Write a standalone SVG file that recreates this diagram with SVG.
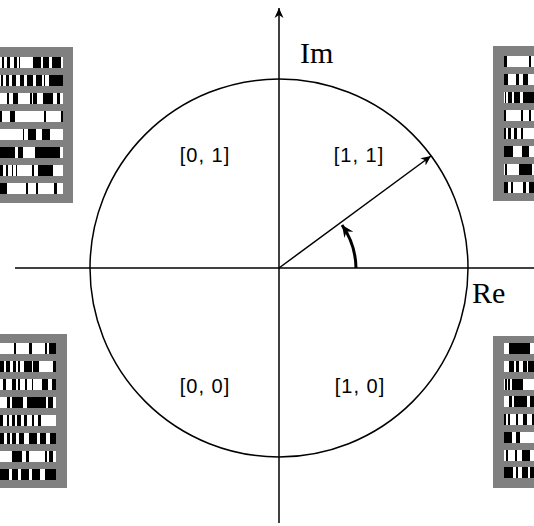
<svg xmlns="http://www.w3.org/2000/svg" width="534" height="526" viewBox="0 0 534 526">
<style>
.gray{fill:#808080}
.w{fill:#ffffff}
.b{fill:#000000}
.ax{stroke:#000;stroke-width:1.5;fill:none}
.serif{font-family:"Liberation Serif","Times New Roman",serif;font-size:30px;fill:#000}
.lbl{font-family:"Liberation Sans",Arial,sans-serif;font-size:20px;fill:#000;text-anchor:middle;letter-spacing:1px}
</style>
<defs>
<marker id="ah" viewBox="-10 -5 11 10" refX="0" refY="0" markerWidth="11" markerHeight="10" markerUnits="userSpaceOnUse" orient="auto">
<path d="M0,0 L-10,-4.5 L-7,0 L-10,4.5 Z" fill="#000"/>
</marker>
<marker id="ah2" viewBox="-12 -6 13 12" refX="0" refY="0" markerWidth="13" markerHeight="12" markerUnits="userSpaceOnUse" orient="auto">
<path d="M0,0 L-12,-5.5 L-8,0 L-12,5.5 Z" fill="#000"/>
</marker>
</defs>
<rect width="534" height="526" fill="#fff"/>

<g id="code-tl">
<rect class="gray" x="-10" y="47" width="83" height="156"/>
<g class="w"><rect x="0" y="57" width="63" height="11"/><rect x="0" y="75" width="63" height="11"/><rect x="0" y="93" width="63" height="11"/><rect x="0" y="111" width="63" height="11"/><rect x="0" y="129" width="63" height="11"/><rect x="0" y="147" width="63" height="11"/><rect x="0" y="165" width="63" height="11"/><rect x="0" y="183" width="63" height="11"/></g>
<g class="b">
<rect x="2" y="57" width="2" height="11"/><rect x="7" y="57" width="3" height="11"/><rect x="14" y="57" width="3" height="11"/><rect x="19" y="57" width="1" height="11"/><rect x="33" y="57" width="8" height="11"/><rect x="43" y="57" width="6" height="11"/><rect x="52" y="57" width="9" height="11"/>
<rect x="1" y="75" width="2" height="11"/><rect x="6" y="75" width="3" height="11"/><rect x="12" y="75" width="4" height="11"/><rect x="20" y="75" width="4" height="11"/><rect x="27" y="75" width="6" height="11"/><rect x="36" y="75" width="6" height="11"/><rect x="44" y="75" width="1" height="11"/><rect x="49" y="75" width="14" height="11"/>
<rect x="7" y="93" width="2" height="11"/><rect x="13" y="93" width="5" height="11"/><rect x="30" y="93" width="2" height="11"/><rect x="33" y="93" width="4" height="11"/><rect x="43" y="93" width="10" height="11"/><rect x="57" y="93" width="3" height="11"/>
<rect x="0" y="111" width="2" height="11"/><rect x="10" y="111" width="5" height="11"/><rect x="44" y="111" width="2" height="11"/><rect x="61" y="111" width="2" height="11"/>
<rect x="23" y="129" width="1" height="11"/><rect x="28" y="129" width="8" height="11"/><rect x="42" y="129" width="8" height="11"/>
<rect x="0" y="147" width="15" height="11"/><rect x="18" y="147" width="5" height="11"/><rect x="35" y="147" width="25" height="11"/>
<rect x="0" y="165" width="3" height="11"/><rect x="6" y="165" width="2" height="11"/><rect x="12" y="165" width="1" height="11"/><rect x="16" y="165" width="1" height="11"/><rect x="32" y="165" width="2" height="11"/><rect x="38" y="165" width="15" height="11"/>
<rect x="0" y="183" width="7" height="11"/><rect x="26" y="183" width="2" height="11"/><rect x="36" y="183" width="2" height="11"/><rect x="54" y="183" width="3" height="11"/>
</g>
</g>

<g id="code-tr">
<rect class="gray" x="493" y="46" width="51" height="155"/>
<g class="w"><rect x="504" y="56" width="30" height="11"/><rect x="504" y="74" width="30" height="11"/><rect x="504" y="92" width="30" height="11"/><rect x="504" y="110" width="30" height="11"/><rect x="504" y="128" width="30" height="11"/><rect x="504" y="146" width="30" height="11"/><rect x="504" y="164" width="30" height="11"/><rect x="504" y="182" width="30" height="11"/></g>
<g class="b">
<rect x="504" y="56" width="3" height="11"/><rect x="529" y="56" width="2" height="11"/>
<rect x="504" y="74" width="4" height="11"/><rect x="516" y="74" width="3" height="11"/><rect x="523" y="74" width="5" height="11"/>
<rect x="505" y="92" width="1" height="11"/><rect x="508" y="92" width="4" height="11"/><rect x="514" y="92" width="6" height="11"/><rect x="523" y="92" width="11" height="11"/>
<rect x="504" y="110" width="2" height="11"/><rect x="521" y="110" width="2" height="11"/><rect x="529" y="110" width="2" height="11"/>
<rect x="504" y="128" width="2" height="11"/><rect x="508" y="128" width="3" height="11"/><rect x="514" y="128" width="3" height="11"/><rect x="521" y="128" width="2" height="11"/>
<rect x="504" y="146" width="9" height="11"/><rect x="522" y="146" width="7" height="11"/>
<rect x="505" y="164" width="2" height="11"/><rect x="519" y="164" width="13" height="11"/>
<rect x="504" y="182" width="4" height="11"/><rect x="511" y="182" width="2" height="11"/><rect x="523" y="182" width="3" height="11"/><rect x="529" y="182" width="5" height="11"/>
</g>
</g>

<g id="code-bl">
<rect class="gray" x="-10" y="334" width="77" height="154"/>
<g class="w"><rect x="0" y="343" width="56" height="11"/><rect x="0" y="361" width="56" height="11"/><rect x="0" y="379" width="56" height="11"/><rect x="0" y="397" width="56" height="11"/><rect x="0" y="415" width="56" height="11"/><rect x="0" y="433" width="56" height="11"/><rect x="0" y="451" width="56" height="11"/><rect x="0" y="469" width="56" height="11"/></g>
<g class="b">
<rect x="14" y="343" width="2" height="11"/><rect x="29" y="343" width="3" height="11"/><rect x="45" y="343" width="2" height="11"/><rect x="49" y="343" width="7" height="11"/>
<rect x="0" y="361" width="4" height="11"/><rect x="6" y="361" width="4" height="11"/><rect x="13" y="361" width="3" height="11"/><rect x="18" y="361" width="2" height="11"/><rect x="24" y="361" width="8" height="11"/><rect x="33" y="361" width="6" height="11"/><rect x="53" y="361" width="3" height="11"/>
<rect x="3" y="379" width="3" height="11"/><rect x="12" y="379" width="4" height="11"/><rect x="18" y="379" width="2" height="11"/><rect x="25" y="379" width="2" height="11"/><rect x="32" y="379" width="1" height="11"/><rect x="42" y="379" width="6" height="11"/><rect x="52" y="379" width="4" height="11"/>
<rect x="7" y="397" width="3" height="11"/><rect x="12" y="397" width="11" height="11"/><rect x="27" y="397" width="19" height="11"/><rect x="48" y="397" width="5" height="11"/>
<rect x="0" y="415" width="3" height="11"/><rect x="7" y="415" width="2" height="11"/><rect x="12" y="415" width="3" height="11"/><rect x="17" y="415" width="4" height="11"/><rect x="24" y="415" width="3" height="11"/><rect x="32" y="415" width="2" height="11"/><rect x="38" y="415" width="3" height="11"/>
<rect x="0" y="433" width="4" height="11"/><rect x="7" y="433" width="3" height="11"/><rect x="12" y="433" width="4" height="11"/><rect x="19" y="433" width="5" height="11"/><rect x="29" y="433" width="8" height="11"/><rect x="40" y="433" width="6" height="11"/><rect x="50" y="433" width="6" height="11"/>
<rect x="12" y="451" width="10" height="11"/><rect x="26" y="451" width="3" height="11"/><rect x="45" y="451" width="2" height="11"/><rect x="49" y="451" width="4" height="11"/>
<rect x="0" y="469" width="9" height="11"/><rect x="12" y="469" width="6" height="11"/><rect x="21" y="469" width="8" height="11"/><rect x="32" y="469" width="8" height="11"/><rect x="45" y="469" width="11" height="11"/>
</g>
</g>

<g id="code-br">
<rect class="gray" x="493" y="336" width="51" height="152"/>
<g class="w"><rect x="504" y="343" width="30" height="11"/><rect x="504" y="361" width="30" height="11"/><rect x="504" y="379" width="30" height="11"/><rect x="504" y="396" width="30" height="11"/><rect x="504" y="414" width="30" height="11"/><rect x="504" y="432" width="30" height="11"/><rect x="504" y="450" width="30" height="11"/><rect x="504" y="467" width="30" height="11"/></g>
<g class="b">
<rect x="509" y="343" width="21" height="11"/>
<rect x="509" y="361" width="5" height="11"/><rect x="516" y="361" width="3" height="11"/><rect x="523" y="361" width="4" height="11"/><rect x="528" y="361" width="6" height="11"/>
<rect x="505" y="379" width="2" height="11"/><rect x="508" y="379" width="2" height="11"/><rect x="512" y="379" width="11" height="11"/>
<rect x="509" y="396" width="3" height="11"/><rect x="514" y="396" width="13" height="11"/><rect x="530" y="396" width="4" height="11"/>
<rect x="504" y="414" width="2" height="11"/><rect x="508" y="414" width="2" height="11"/><rect x="516" y="414" width="2" height="11"/><rect x="523" y="414" width="4" height="11"/><rect x="532" y="414" width="2" height="11"/>
<rect x="504" y="432" width="8" height="11"/><rect x="516" y="432" width="4" height="11"/>
<rect x="506" y="450" width="2" height="11"/><rect x="515" y="450" width="2" height="11"/><rect x="522" y="450" width="8" height="11"/>
<rect x="504" y="467" width="9" height="11"/><rect x="516" y="467" width="2" height="11"/><rect x="522" y="467" width="6" height="11"/><rect x="530" y="467" width="4" height="11"/>
</g>
</g>

<g id="circle">
<circle class="ax" cx="279" cy="268" r="189"/>
</g>

<g id="connectors">
<line class="ax" x1="15" y1="268" x2="534" y2="268"/>
<line class="ax" x1="279" y1="523" x2="279" y2="8" marker-end="url(#ah)"/>
<line class="ax" x1="279" y1="268" x2="431" y2="156" stroke-width="1.3" marker-end="url(#ah)"/>
<path d="M 356 268 A 77 77 0 0 0 342 225" fill="none" stroke="#000" stroke-width="3" marker-end="url(#ah2)"/>
</g>

<g id="axis-labels">
<text class="serif" x="300" y="63">Im</text>
<text class="serif" x="472" y="303">Re</text>
</g>

<g id="q-01"><text class="lbl" x="205" y="162">[0, 1]</text></g>
<g id="q-11"><text class="lbl" x="359" y="162">[1, 1]</text></g>
<g id="q-00"><text class="lbl" x="205" y="393">[0, 0]</text></g>
<g id="q-10"><text class="lbl" x="360" y="393">[1, 0]</text></g>
</svg>
